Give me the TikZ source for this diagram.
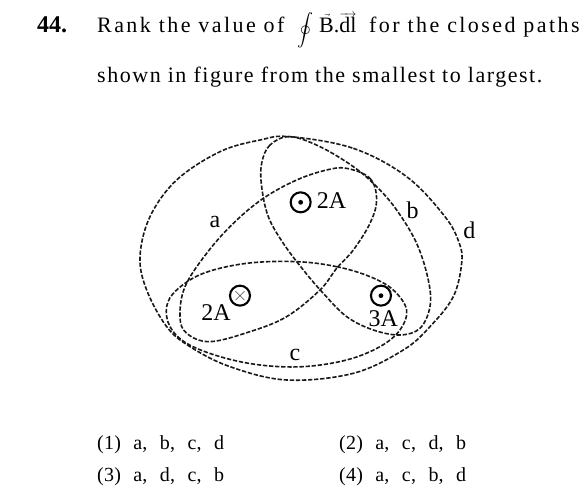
\documentclass[tikz,border=0pt]{standalone}
\usepackage{fontspec}
\usepackage{graphicx}
\setmainfont{Liberation Serif}
\newfontfamily\spaced[LetterSpace=11]{Liberation Serif}
\newfontfamily\spacedtwo[LetterSpace=7]{Liberation Serif}
\newfontfamily\optfont[LetterSpace=1,WordSpace=2.4]{Liberation Serif}
\usepackage{tikz}
\usepackage{xcolor}

\tikzset{
    loop path/.style={draw=black!90,line width=1.6pt,dash pattern=on 4.3pt off 1.8pt},
    current/.style={draw,circle,line width=2.1pt,minimum size=20pt,inner sep=0pt},
    fig label/.style={font=\fontsize{24}{26}\selectfont,inner sep=0pt},
    question/.style={anchor=base west,inner sep=0pt,font=\fontsize{22}{24}\selectfont\spaced},
    answer/.style={anchor=base west,inner sep=0pt,font=\fontsize{20}{24}\selectfont\optfont},
}

\begin{document}
\begin{tikzpicture}[x=1pt,y=-1pt]
    \useasboundingbox (0,0) rectangle (586,491);

    % question text
    \node[anchor=base west,inner sep=0pt,font=\fontsize{24}{26}\selectfont\bfseries] (number) at (37,32) {44.};
    \node[question] (lineone) at (97,32) {Rank the value of};
    \node[inner sep=0pt] (integral) at (305,30) {\scalebox{1.6}{$\displaystyle\oint$}};
    \node[anchor=base west,inner sep=0pt,font=\fontsize{13}{15}\selectfont] (field) at (319,32) {$\vec{\hbox{\fontsize{22}{24}\selectfont B}}$\hbox{\fontsize{22}{24}\selectfont .}$\overrightarrow{\hbox{\fontsize{22}{24}\selectfont dl}}$};
    \node[question] (lineonerest) at (369,32) {for the closed paths};
    \node[question,font=\fontsize{22}{24}\selectfont\spacedtwo] (linetwo) at (97,82) {shown in figure from the smallest to largest.};

    % closed paths, points taken in a 3x grid
    \begin{scope}[shift={(120,120)},x=0.3333pt,y=-0.3333pt]
        \draw[loop path] plot[smooth cycle,tension=0.6] coordinates {(510,50) (700,85) (860,170) (975,290) (1018,370) (1025,430) (1000,530) (930,620) (850,690) (700,760) (500,780) (330,740) (210,680) (140,620) (80,510) (60,410) (90,290) (170,180) (300,95) (420,60)};
        \draw[loop path] plot[smooth cycle,tension=0.6] coordinates {(680,145) (750,175) (770,240) (750,310) (700,390) (650,445) (600,510) (500,590) (390,635) (270,665) (200,640) (180,590) (195,500) (260,400) (340,310) (430,235) (530,180) (620,150)};
        \draw[loop path] plot[smooth cycle,tension=0.6] coordinates {(510,50) (450,75) (425,130) (425,200) (445,290) (490,370) (550,450) (610,520) (680,590) (760,630) (840,645) (900,625) (930,560) (925,480) (890,370) (830,270) (770,200) (700,140) (600,80)};
        \draw[loop path] plot[smooth cycle,tension=0.6] coordinates {(530,425) (650,440) (750,470) (820,510) (860,570) (840,630) (780,680) (680,720) (550,740) (420,735) (300,710) (200,670) (150,620) (140,560) (170,510) (250,460) (380,430)};

        % currents
        \node[current] (top) at (542,247) {};
        \node[current] (left) at (360,527) {};
        \node[current] (right) at (783,527) {};
        \fill (top) circle (2.4pt);
        \fill (right) circle (2.4pt);
        \draw[line width=0.4pt] (left.center) +(-4.5pt,-4.5pt) -- +(4.5pt,4.5pt);
        \draw[line width=0.4pt] (left.center) +(-4.5pt,4.5pt) -- +(4.5pt,-4.5pt);

        % labels
        \foreach \name/\xpos/\ypos/\txt in {labela/285/307/a, labelb/878/272/b, labeld/1048/330/d, labelc/525/705/c, toptwo/635/243/2A, lefttwo/288/578/2A, rightthree/790/595/3A} {
            \node[fig label] (\name) at (\xpos,\ypos) {\txt};
        }
    \end{scope}

    % options
    \node[answer] (optone) at (97,449) {(1) a, b, c, d};
    \node[answer] (opttwo) at (339,449) {(2) a, c, d, b};
    \node[answer] (optthree) at (97,481) {(3) a, d, c, b};
    \node[answer] (optfour) at (339,481) {(4) a, c, b, d};
\end{tikzpicture}
\end{document}
